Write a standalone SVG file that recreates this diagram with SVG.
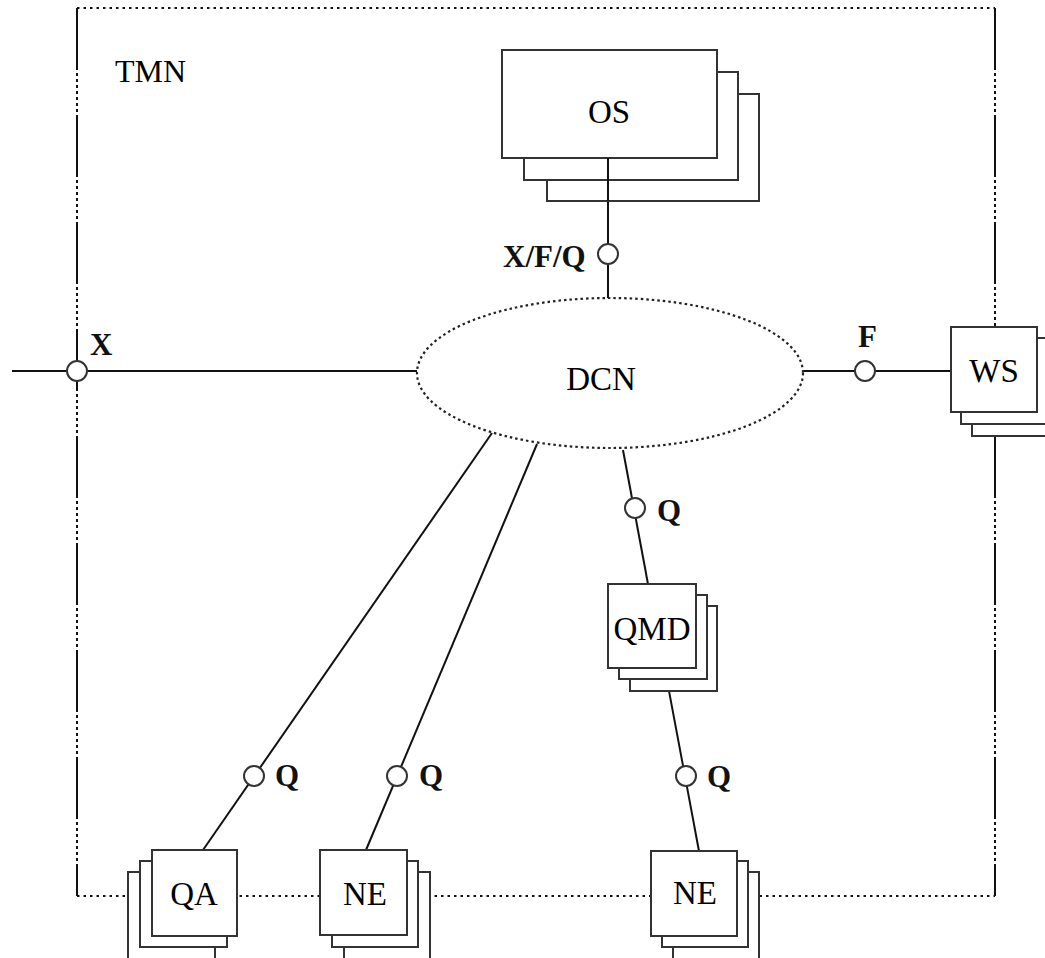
<svg xmlns="http://www.w3.org/2000/svg" width="1045" height="958" viewBox="0 0 1045 958">
<style>
  .bx { fill: #fff; stroke: #333; stroke-width: 2; }
  .ln { fill: none; stroke: #111; stroke-width: 2; }
  .ifc { fill: #fff; stroke: #333; stroke-width: 2; }
  .bd { fill: none; stroke: #111; stroke-width: 2; stroke-dasharray: 62 3 3 3 3 3 3 3 3 3 3 3 3 3 3 3; }
  .dt { fill: none; stroke: #111; stroke-width: 2.2; stroke-dasharray: 2.5 4; }
  .nl { font-family: "Liberation Serif", "Times New Roman", serif; font-size: 33px; fill: #000; text-anchor: middle; }
  .il { font-family: "Liberation Serif", "Times New Roman", serif; font-size: 31px; font-weight: bold; fill: #111; }
</style>
<rect width="1045" height="958" fill="#fff"/>

<g id="tmn-boundary">
  <line class="dt" x1="77" y1="8" x2="995" y2="8"/>
  <line class="bd" x1="77" y1="8" x2="77" y2="896"/>
  <line class="dt" x1="77" y1="896" x2="995" y2="896"/>
  <line class="bd" x1="995" y1="8" x2="995" y2="327"/>
  <line class="bd" x1="995" y1="436" x2="995" y2="896"/>
  <text x="115" y="82" font-family="Liberation Serif, Times New Roman, serif" font-size="32" fill="#000">TMN</text>
</g>

<g id="connectors">
  <line class="ln" x1="12" y1="371" x2="417" y2="371"/>
  <line class="ln" x1="803" y1="371" x2="951" y2="371"/>
  <line class="ln" x1="608" y1="158" x2="608" y2="299"/>
  <line class="ln" x1="492" y1="433" x2="203" y2="850"/>
  <line class="ln" x1="537" y1="444" x2="366" y2="850"/>
  <line class="ln" x1="623" y1="450" x2="648" y2="584"/>
  <line class="ln" x1="669" y1="691" x2="699" y2="851"/>
</g>

<g id="node-os">
  <rect class="bx" x="547" y="94" width="212" height="107"/>
  <rect class="bx" x="524" y="72" width="214" height="108"/>
  <rect class="bx" x="502" y="50" width="215" height="108"/>
  <line class="ln" x1="608" y1="158" x2="608" y2="201"/>
  <text class="nl" x="609" y="123" font-size="34">OS</text>
</g>

<g id="node-dcn">
  <ellipse cx="610" cy="373" rx="193" ry="75" fill="#fff" stroke="#222" stroke-width="2.2" stroke-dasharray="2.5 3"/>
  <text class="nl" x="601" y="390" font-size="34">DCN</text>
</g>

<g id="node-ws">
  <rect class="bx" x="972" y="350" width="86" height="86"/>
  <rect class="bx" x="961" y="338" width="86" height="86"/>
  <rect class="bx" x="951" y="327" width="86" height="85"/>
  <text class="nl" x="994" y="382">WS</text>
</g>

<g id="node-qmd">
  <rect class="bx" x="630" y="606" width="87" height="85"/>
  <rect class="bx" x="619" y="595" width="88" height="84"/>
  <rect class="bx" x="608" y="584" width="88" height="84"/>
  <text class="nl" x="652" y="640">QMD</text>
</g>

<g id="node-qa">
  <rect class="bx" x="128" y="872" width="87" height="87"/>
  <rect class="bx" x="140" y="861" width="87" height="86"/>
  <rect class="bx" x="152" y="850" width="85" height="86"/>
  <text class="nl" x="194" y="905">QA</text>
</g>

<g id="node-ne1">
  <rect class="bx" x="344" y="872" width="86" height="87"/>
  <rect class="bx" x="332" y="861" width="86" height="86"/>
  <rect class="bx" x="320" y="850" width="87" height="85"/>
  <text class="nl" x="365" y="905">NE</text>
</g>

<g id="node-ne2">
  <rect class="bx" x="673" y="872" width="86" height="87"/>
  <rect class="bx" x="662" y="861" width="86" height="86"/>
  <rect class="bx" x="651" y="851" width="86" height="85"/>
  <text class="nl" x="695" y="904">NE</text>
</g>

<g id="interfaces">
  <circle class="ifc" cx="77" cy="371" r="10"/>
  <text class="il" x="90" y="355">X</text>
  <circle class="ifc" cx="608" cy="254" r="10"/>
  <text class="il" x="503" y="267" font-size="32">X/F/Q</text>
  <circle class="ifc" cx="865" cy="371" r="10"/>
  <text class="il" x="858" y="347">F</text>
  <circle class="ifc" cx="635" cy="508" r="10"/>
  <text class="il" x="657" y="521">Q</text>
  <circle class="ifc" cx="254" cy="776" r="10"/>
  <text class="il" x="275" y="786">Q</text>
  <circle class="ifc" cx="397" cy="776" r="10"/>
  <text class="il" x="419" y="786">Q</text>
  <circle class="ifc" cx="686" cy="776" r="10"/>
  <text class="il" x="707" y="787">Q</text>
</g>
</svg>
